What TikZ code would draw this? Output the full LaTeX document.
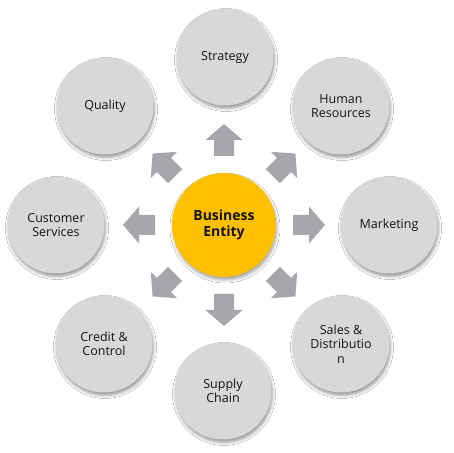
\documentclass[tikz,border=0pt]{standalone}
\usepackage{fontspec}
\setmainfont{Open Sans}
\usetikzlibrary{shadows.blur}
\definecolor{ringgray}{RGB}{216,216,216}
\definecolor{arrowgray}{RGB}{166,166,173}
\definecolor{hubyellow}{RGB}{255,192,0}
\definecolor{txt}{RGB}{20,20,20}
\begin{document}
\begin{tikzpicture}[x=1pt,y=1pt,
  satellite/.style={circle, fill=ringgray, minimum size=97pt, inner sep=0pt,
    align=center, text=txt, font=\fontsize{12.5}{14.5}\selectfont,
    blur shadow={shadow xshift=1pt, shadow yshift=-3pt, shadow blur radius=3pt, shadow opacity=40}},
  hub/.style={circle, fill=hubyellow, minimum size=104pt, inner sep=0pt,
    align=center, text=txt, font=\fontsize{14}{16}\selectfont\bfseries,
    blur shadow={shadow xshift=1pt, shadow yshift=-3pt, shadow blur radius=3pt, shadow opacity=35}},
  blockarrow/.style={fill=arrowgray}]
\useasboundingbox (0,0) rectangle (453,453);
\fill[white] (0,0) rectangle (453,453);
\node[hub] (hub) at (224,228) {Business\\Entity};
\node[satellite] (strategy) at (225,396) {Strategy};
\node[satellite] (hr) at (341,347) {Human\\Resources};
\node[satellite] (marketing) at (389,228) {Marketing};
\node[satellite] (sales) at (341,109) {Sales \&\\Distributio\\n};
\node[satellite] (supply) at (223,62) {Supply\\Chain};
\node[satellite] (credit) at (104,109) {Credit \&\\Control};
\node[satellite] (customer) at (56,228) {Customer\\Services};
\node[satellite] (quality) at (105,347) {Quality};
\foreach \a in {0,45,...,315}{
  \fill[blockarrow, shift={(hub.center)}, rotate=\a]
    (69,-10) -- (85,-10) -- (85,-18.5) -- (101,0) -- (85,18.5) -- (85,10) -- (69,10) -- cycle;
}
\end{tikzpicture}
\end{document}
